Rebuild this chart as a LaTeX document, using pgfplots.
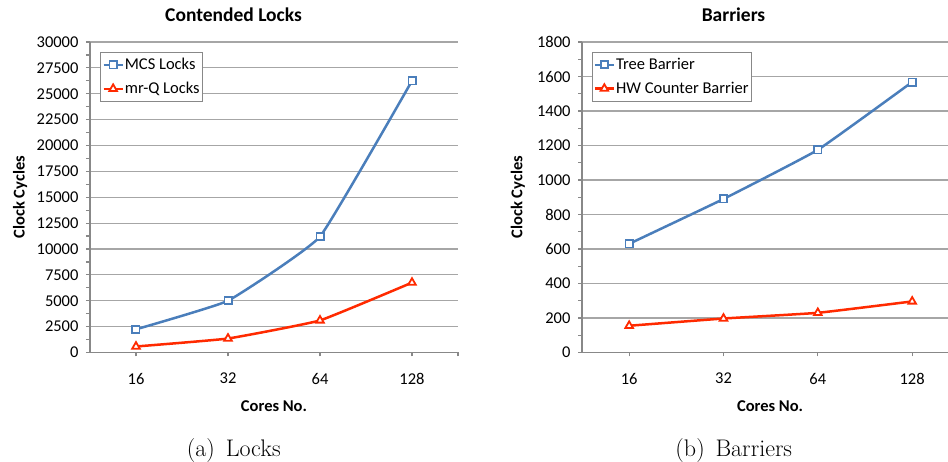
\documentclass[border=0pt]{standalone}
\usepackage{fontspec}
\usepackage{pgfplots}
\pgfplotsset{compat=1.18}
\newfontfamily\carlito{Carlito}
\definecolor{xblue}{HTML}{4A7EBB}
\definecolor{xred}{HTML}{FF2A00}
\definecolor{xgrid}{HTML}{A6A6A6}
\definecolor{xaxis}{HTML}{888888}
\newcommand{\tickfont}{\carlito\fontsize{16.5}{19}\selectfont}
\newcommand{\labfont}{\carlito\bfseries\fontsize{16.5}{19}\selectfont}
\newcommand{\titfont}{\carlito\bfseries\fontsize{19.5}{22}\selectfont}
\pgfplotsset{
  xlstyle/.style={
    scale only axis, clip=false,
    axis lines*=left,
    axis line style={xaxis, line width=1.2pt},
    ymajorgrids, grid style={xgrid, line width=1.2pt},
    tick style={xaxis, line width=1.2pt},
    tick align=outside, major tick length=4pt, minor tick length=4pt,
    minor y tick num=1,
    xtick pos=bottom, ytick pos=left,
    ticklabel style={font=\tickfont},
    xticklabel style={yshift=-13pt},
    yticklabel style={xshift=-4pt},
    scaled y ticks=false,
    /pgf/number format/assume math mode=true,
    /pgf/number format/set thousands separator={},
    /pgf/number format/fixed,
    /pgf/number format/precision=0,
    ymin=0, xmin=-0.5,
    every axis title/.style={anchor=base, font=\titfont},
    every axis x label/.style={anchor=base, font=\labfont},
    every axis y label/.style={anchor=center, rotate=90, font=\labfont},
    legend style={draw=xaxis, line width=0.8pt, font=\tickfont, anchor=north west,
      inner xsep=1.5pt, inner ysep=3.5pt, row sep=6pt,
      nodes={inner xsep=1pt, inner ysep=2.5pt}},
    legend cell align=left,
    legend image code/.code={\draw[mark repeat=2,mark phase=2,#1] plot coordinates {(0pt,0pt) (9.5pt,0pt) (19pt,0pt)};},
  },
  bluestyle/.style={xblue, line width=2.5pt, smooth, tension=0.2, mark=square*,
    mark size=3.6pt, mark options={fill=white, line width=1.8pt, solid}},
  redstyle/.style={xred, line width=2.5pt, smooth, tension=0.2, mark=triangle*,
    mark size=4.4pt, mark options={fill=white, line width=1.8pt, solid}},
}
\begin{document}
\begin{tikzpicture}
\useasboundingbox (0pt,0pt) rectangle (948pt,462pt);
\begin{axis}[xlstyle,
  at={(90pt,109.5pt)}, anchor=south west, width=368pt, height=310.5pt,
  xmax=3.5, ymax=30000,
  xtick={0,1,2,3,3.5}, xticklabels={16,32,64,128,},
  ytick={0,2500,...,30000},
  title={Contended Locks}, title style={at={(axis description cs:0.39,1)}, yshift=20.3pt},
  xlabel={Cores No.}, xlabel style={at={(axis description cs:0.5,0)}, yshift=-59.5pt},
  ylabel={Clock Cycles}, ylabel style={at={(axis description cs:-0.19,0.5)}},
  legend style={at={(axis description cs:0.0285,0.968)}},
]
\addplot[bluestyle] coordinates {(0,2240) (1,5000) (2,11200) (3,26250)};
\addlegendentry{MCS Locks}
\addplot[redstyle] coordinates {(0,580) (1,1350) (2,3100) (3,6750)};
\addlegendentry{mr-Q Locks}
\end{axis}
\begin{axis}[xlstyle,
  at={(582pt,109.5pt)}, anchor=south west, width=366pt, height=310.5pt,
  xmax=3.38, ymax=1800,
  xtick={0,1,2,3}, xticklabels={16,32,64,128},
  ytick={0,200,...,1800},
  title={Barriers}, title style={at={(axis description cs:0.414,1)}, yshift=20.3pt},
  xlabel={Cores No.}, xlabel style={at={(axis description cs:0.514,0)}, yshift=-59.5pt},
  ylabel={Clock Cycles}, ylabel style={at={(axis description cs:-0.175,0.5)}},
  legend style={at={(axis description cs:0.0265,0.968)}},
]
\addplot[bluestyle] coordinates {(0,630) (1,890) (2,1175) (3,1568)};
\addlegendentry{Tree Barrier}
\addplot[redstyle] coordinates {(0,155) (1,197) (2,230) (3,296)};
\addlegendentry{HW Counter Barrier}
\end{axis}
\node[anchor=base, font=\fontsize{24}{28}\selectfont] at (233.8pt,5.3pt) {(a)\hspace{0.45em}Locks};
\node[anchor=base, font=\fontsize{24}{28}\selectfont] at (733.8pt,5.3pt) {(b)\hspace{0.45em}Barriers};
\end{tikzpicture}
\end{document}
